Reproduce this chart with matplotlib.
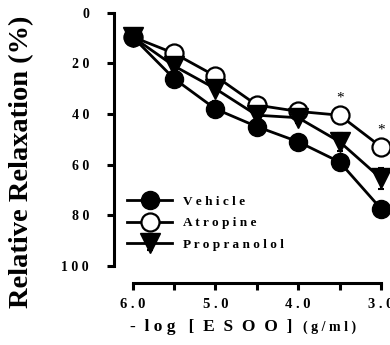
import matplotlib.pyplot as plt
import numpy as np

log_conc = [6.0, 5.5, 5.0, 4.5, 4.0, 3.5, 3.0]
vehicle = [9.5, 26, 38, 45, 51, 59, 77.5]
vehicle_err = [0, 1.5, 3, 3, 2.5, 1.5, 1]
atropine = [9.5, 16, 25, 36.5, 39, 40.5, 53]
atropine_err = [0, 1, 1, 1.5, 1.5, 1.5, 1.5]
propranolol = [9.5, 21, 30, 40.5, 41.5, 51, 65.5]
propranolol_err = [0, 1.5, 1.5, 2, 2, 3.5, 4]
star_x = [3.5, 3.0]
star_y = [40.5, 53]

plt.rcParams['font.family'] = ['Liberation Serif', 'DejaVu Serif']
plt.rcParams['font.weight'] = 'bold'

fig = plt.figure(figsize=(3.9, 3.45), dpi=100)
ax = fig.add_axes([0.292, 0.18, 0.685, 0.783])

kw = dict(color='black', lw=2, capsize=2.5, elinewidth=1.5, capthick=1.5,
          clip_on=False)
ax.errorbar(log_conc, vehicle, yerr=vehicle_err, marker='o', ms=13,
            mfc='black', mec='black', label='V e h i c l e', zorder=3, **kw)
ax.errorbar(log_conc, atropine, yerr=atropine_err, marker='o', ms=13,
            mfc='white', mec='black', mew=1.6, label='A t r o p i n e', zorder=2.5, **kw)
ax.errorbar(log_conc, propranolol, yerr=propranolol_err, marker='v', ms=14,
            mfc='black', mec='black', label='P r o p r a n o l o l', zorder=3.5, **kw)

for x, y in zip(star_x, star_y):
    ax.text(x, y - 4.2, '*', ha='center', va='bottom', fontsize=11, fontweight='normal')

ax.set_xlim(6.225, 3.0)
ax.set_ylim(106.8, 0)
ax.spines['top'].set_visible(False)
ax.spines['right'].set_visible(False)
ax.spines['left'].set_bounds(0, 100)
ax.spines['bottom'].set_bounds(6.0, 3.0)
ax.spines['left'].set_linewidth(2.2)
ax.spines['bottom'].set_linewidth(2.2)

ax.set_yticks([0, 20, 40, 60, 80, 100])
ax.set_yticklabels(['0', '2 0', '4 0', '6 0', '8 0', '1 0 0'])
ax.set_xticks([6.0, 5.5, 5.0, 4.5, 4.0, 3.5, 3.0])
ax.set_xticklabels(['6 . 0', '', '5 . 0', '', '4 . 0', '', '3 . 0'])
ax.tick_params(axis='y', width=2.2, length=5, labelsize=10, pad=13)
ax.tick_params(axis='x', width=2.2, length=5, labelsize=10.5, pad=6)

fig.text(22 / 390, 1 - 162 / 345, 'Relative Relaxation (%)', rotation=90,
         ha='center', va='center', fontsize=20.5, fontweight='bold')
fig.text(301 / 390, 1 - 327 / 345, '-  l o g   [  E  S  O  O  ]  ', ha='right', va='center',
         fontsize=12.5, fontweight='bold')
fig.text(303 / 390, 1 - 327 / 345, '( g / m l )', ha='left', va='center',
         fontsize=10, fontweight='bold')

ax.legend(loc='lower left', bbox_to_anchor=(0.03, 0.1), frameon=False, fontsize=9.5,
          handlelength=3.4, handletextpad=0.8, borderaxespad=0, labelspacing=0.7)

fig.savefig('out.png', dpi=100)
